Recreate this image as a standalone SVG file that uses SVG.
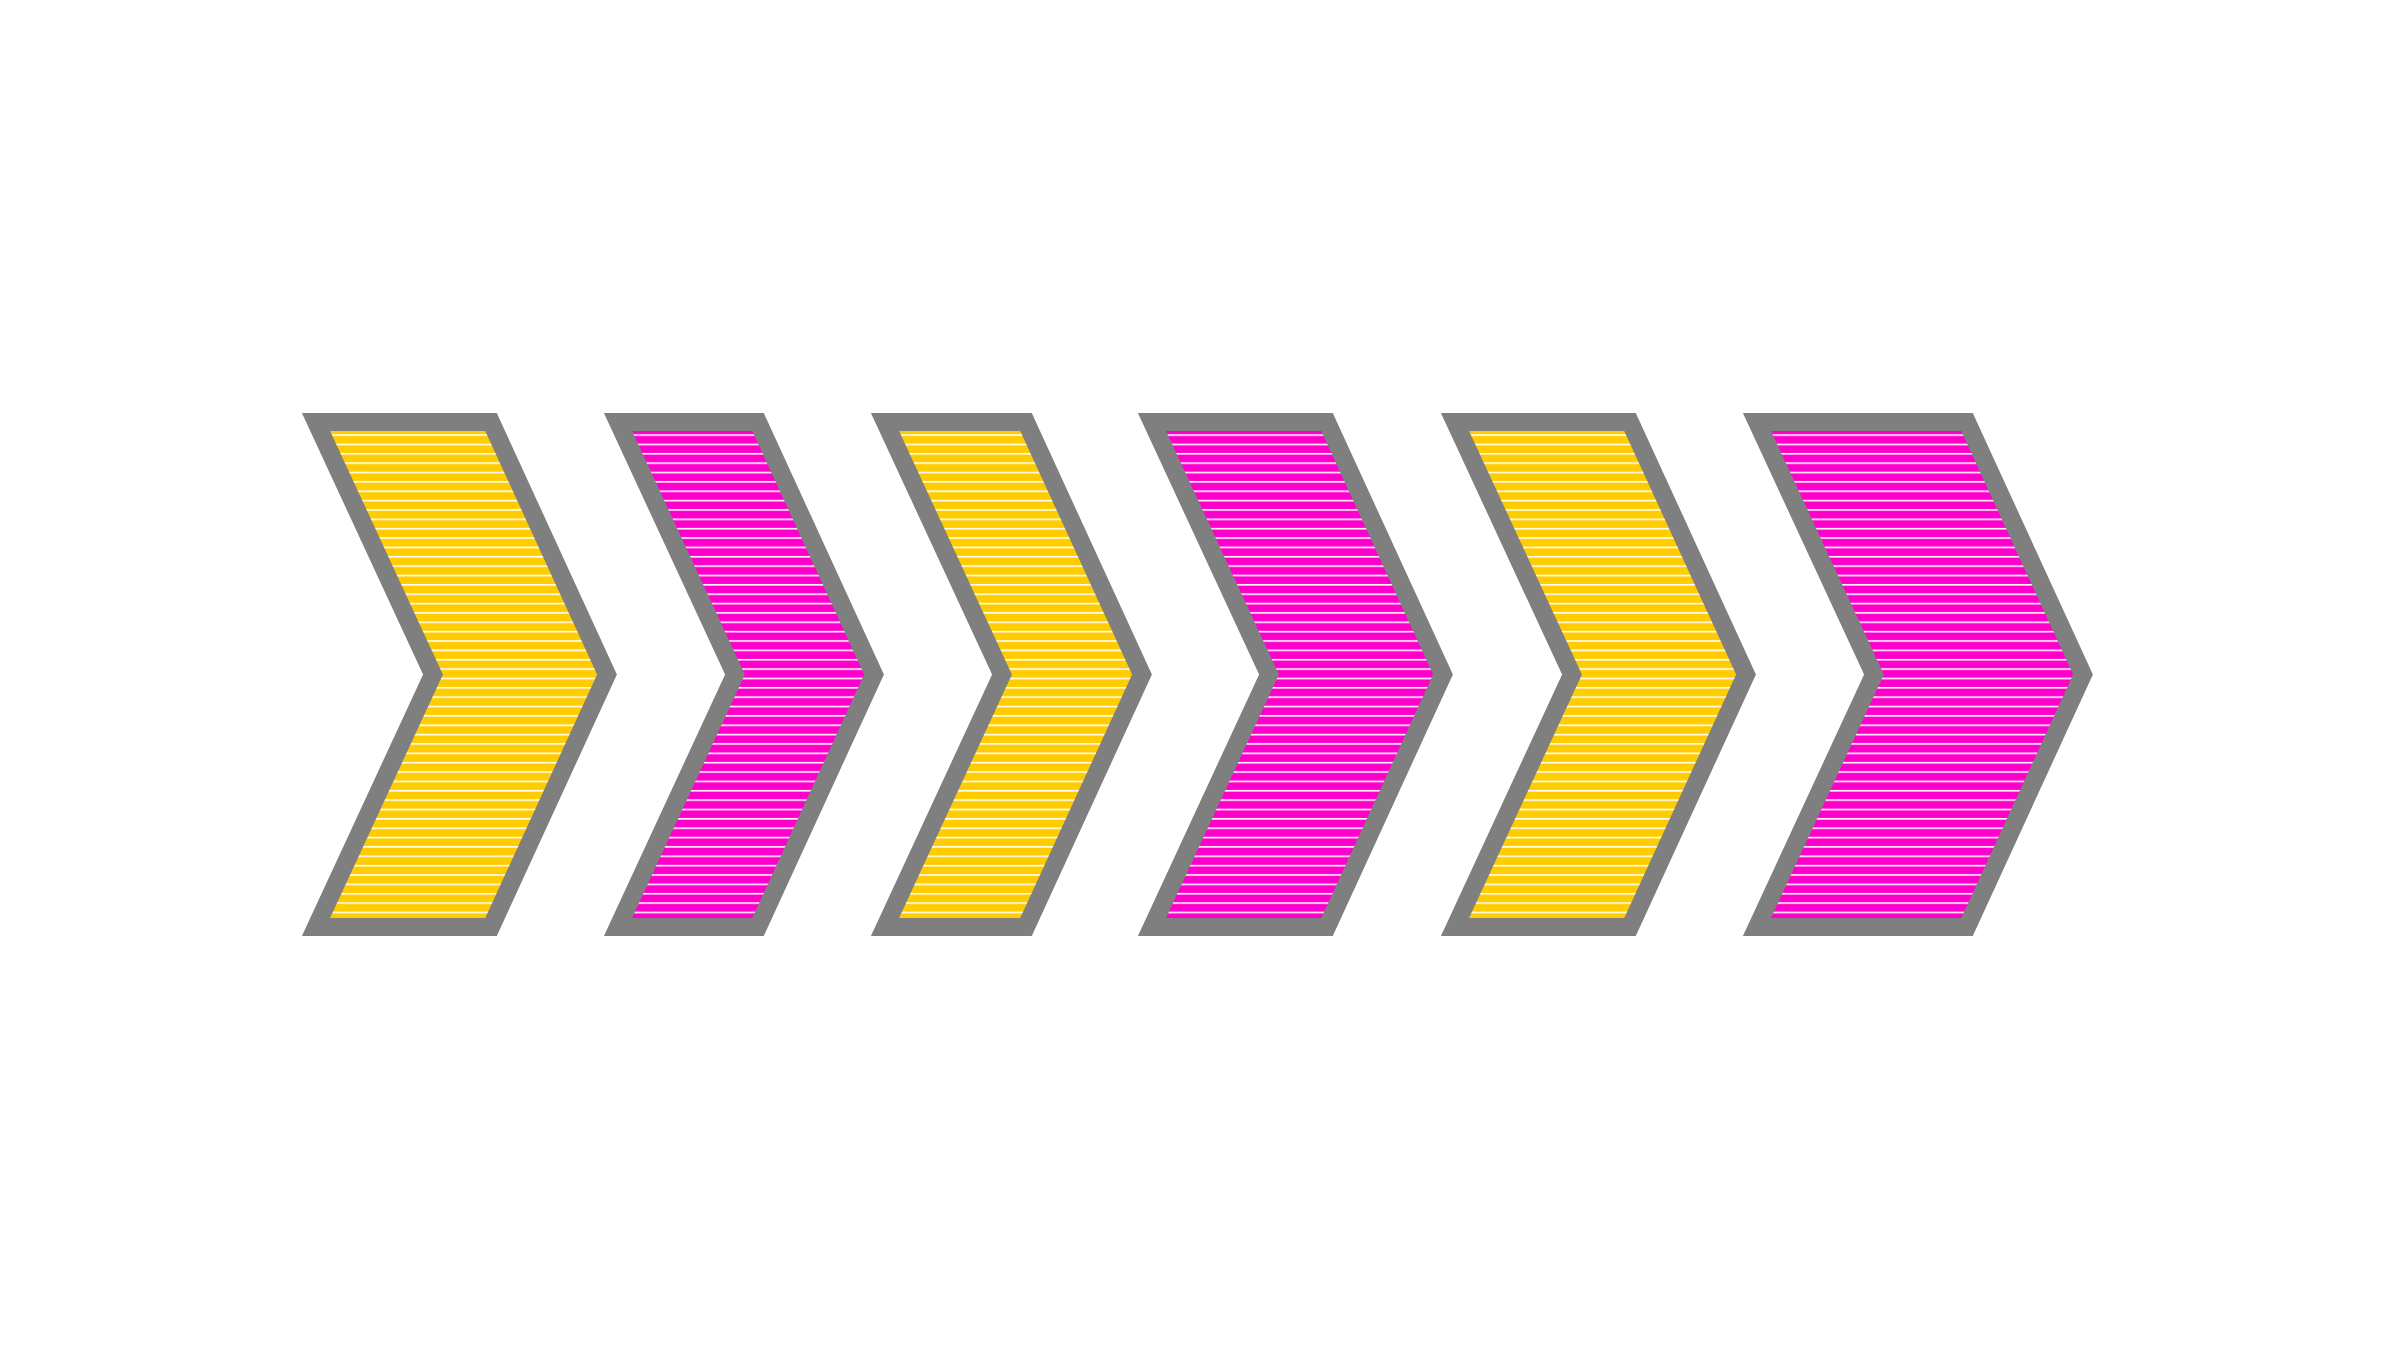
<svg xmlns="http://www.w3.org/2000/svg" width="2400" height="1350" viewBox="0 0 2400 1350">
  <defs>
    <pattern id="stripeY" patternUnits="userSpaceOnUse" x="0" y="0" width="20" height="9.36">
      <rect x="0" y="0" width="20" height="9.36" fill="#FFCC00"/>
      <rect x="0" y="3.7" width="20" height="1.6" fill="#FFFFFF"/>
    </pattern>
    <pattern id="stripeM" patternUnits="userSpaceOnUse" x="0" y="0" width="20" height="9.36">
      <rect x="0" y="0" width="20" height="9.36" fill="#FF00CC"/>
      <rect x="0" y="3.7" width="20" height="1.6" fill="#FFFFFF"/>
    </pattern>
    <style>
      .chev { stroke: #7F7F7F; stroke-width: 18; stroke-linejoin: miter; stroke-miterlimit: 4; }
      .y { fill: url(#stripeY); }
      .m { fill: url(#stripeM); }
    </style>
  </defs>
  <rect x="0" y="0" width="2400" height="1350" fill="#FFFFFF"/>
  <g id="chevron1">
    <polygon class="chev y" points="316,422 491,422 607,674.5 491,927 316,927 433,674.5"/>
  </g>
  <g id="chevron2">
    <polygon class="chev m" points="618,422 758,422 874,674.5 758,927 618,927 735,674.5"/>
  </g>
  <g id="chevron3">
    <polygon class="chev y" points="885,422 1026,422 1142,674.5 1026,927 885,927 1002,674.5"/>
  </g>
  <g id="chevron4">
    <polygon class="chev m" points="1152,422 1327,422 1443,674.5 1327,927 1152,927 1269,674.5"/>
  </g>
  <g id="chevron5">
    <polygon class="chev y" points="1455,422 1630,422 1746,674.5 1630,927 1455,927 1572,674.5"/>
  </g>
  <g id="chevron6">
    <polygon class="chev m" points="1757,422 1967,422 2083,674.5 1967,927 1757,927 1874,674.5"/>
  </g>
  <g id="connectors"/>
</svg>
